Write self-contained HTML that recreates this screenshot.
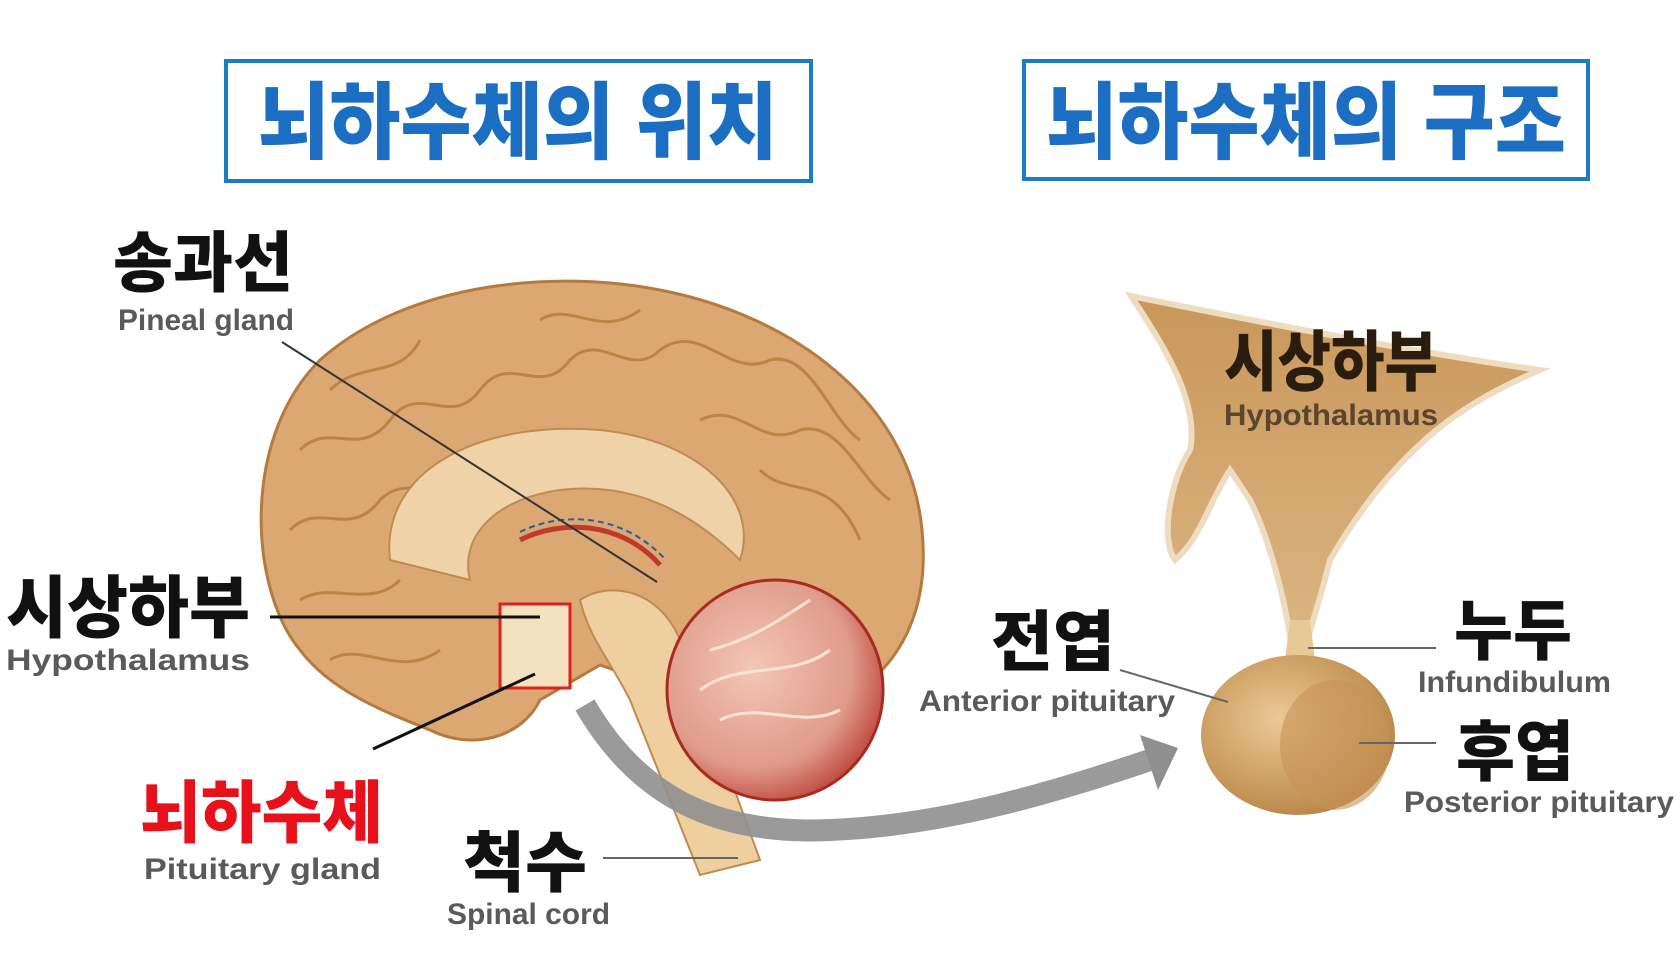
<!DOCTYPE html>
<html><head><meta charset="utf-8"><style>
html,body{margin:0;padding:0;background:#fff;}
svg{display:block}
.k{font-family:"Liberation Sans","Noto Sans CJK KR",sans-serif;font-weight:900;fill:#111}
.e{font-family:"Liberation Sans Narrow","Liberation Sans",sans-serif;font-weight:bold;fill:#5a5a5a}
</style></head><body>
<svg width="1680" height="977" viewBox="0 0 1680 977" xmlns="http://www.w3.org/2000/svg">
<defs>
<radialGradient id="gl" cx="0.4" cy="0.4" r="0.7"><stop offset="0" stop-color="#ecc995"/><stop offset="1" stop-color="#b4803f"/></radialGradient>
<linearGradient id="hy" x1="0" y1="0" x2="0" y2="1"><stop offset="0" stop-color="#c9975a"/><stop offset="1" stop-color="#dcb683"/></linearGradient>
<radialGradient id="cb" cx="0.4" cy="0.4" r="0.7"><stop offset="0" stop-color="#f3c7b5"/><stop offset="0.65" stop-color="#e09a8a"/><stop offset="1" stop-color="#b5322a"/></radialGradient>
</defs>
<rect x="226" y="61" width="585" height="120" fill="#fff" stroke="#1d7cc6" stroke-width="4"/>
<text x="518" y="152" text-anchor="middle" class="k" style="fill:#1b6ec2;font-size:84px" textLength="520" lengthAdjust="spacingAndGlyphs">뇌하수체의 위치</text>
<rect x="1024" y="61" width="564" height="118" fill="#fff" stroke="#1d7cc6" stroke-width="4"/>
<text x="1306" y="152" text-anchor="middle" class="k" style="fill:#1b6ec2;font-size:84px" textLength="520" lengthAdjust="spacingAndGlyphs">뇌하수체의 구조</text>

<!-- brain -->
<path d="M300 650 C250 590 240 440 320 360 C410 280 560 270 660 290 C790 315 910 400 922 530 C930 610 900 660 860 690 L700 700 L600 665 L540 700 C520 740 470 750 430 730 C380 710 330 690 300 650Z" fill="#dba873" stroke="#b57a3e" stroke-width="3"/>
<g fill="none" stroke="#b57a3e" stroke-width="3" opacity="0.8">
<path d="M300 450 C330 420 360 460 390 420 C420 380 450 430 480 390 C510 350 540 400 570 360 C600 330 630 380 660 350 C700 320 730 380 770 360 C810 350 830 420 860 440"/>
<path d="M290 530 C320 500 350 540 380 500 C410 470 440 510 470 480 M700 420 C740 400 760 450 800 430 C840 420 860 480 890 500"/>
<path d="M330 390 C360 360 400 380 420 340 M540 320 C570 300 600 340 640 310 M760 470 C790 500 830 470 860 540 M300 600 C330 580 370 610 400 580 M330 660 C360 640 400 680 440 650"/>
</g>
<path d="M390 560 C380 470 480 420 600 430 C700 440 760 500 740 560 C700 520 640 480 560 490 C490 500 460 540 470 580Z" fill="#efd2a8" stroke="#c08b50" stroke-width="2"/>
<path d="M520 540 C560 520 620 520 660 565" fill="none" stroke="#c0392b" stroke-width="5"/>
<path d="M520 532 C560 512 620 512 664 558" fill="none" stroke="#2c5aa0" stroke-width="2" stroke-dasharray="6 4"/>
<path d="M580 600 C610 580 660 590 680 640 L760 860 L700 875 L630 700 C610 660 590 640 580 600Z" fill="#efcf9f" stroke="#c08b50" stroke-width="2"/>
<ellipse cx="775" cy="690" rx="108" ry="110" fill="url(#cb)" stroke="#a82a20" stroke-width="3"/>
<path d="M700 690 C740 660 790 680 830 650 M720 720 C760 700 800 730 840 710 M710 650 C750 640 780 620 810 600" fill="none" stroke="#fbe3d3" stroke-width="3"/>
<rect x="500" y="604" width="70" height="84" fill="#f3e1bf" stroke="#e01f1f" stroke-width="3"/>
<path d="M585 705 C640 800 720 835 830 830 C950 825 1060 790 1150 760" fill="none" stroke="#8f8f8f" stroke-width="22" opacity="0.9"/>
<polygon points="1140,735 1178,748 1158,790" fill="#8f8f8f"/>

<!-- right structure -->
<path d="M1131 296 C1250 320 1400 350 1540 370 C1470 400 1400 440 1330 560 C1320 600 1310 630 1305 648 L1292 648 C1285 600 1270 540 1250 500 L1230 470 C1210 500 1200 540 1175 560 C1160 540 1170 480 1190 450 C1200 400 1160 340 1131 296Z" fill="url(#hy)" stroke="#eedcc0" stroke-width="6"/>
<path d="M1290 620 L1310 620 L1315 660 L1285 660Z" fill="#e8c896"/>
<ellipse cx="1298" cy="735" rx="97" ry="80" fill="url(#gl)"/>
<ellipse cx="1335" cy="745" rx="55" ry="65" fill="#c79356" opacity="0.6"/>

<g stroke="#333" stroke-width="2">
<line x1="282" y1="342" x2="657" y2="582"/>
<line x1="270" y1="617" x2="540" y2="617" stroke-width="3" stroke="#111"/>
<line x1="373" y1="749" x2="535" y2="674" stroke-width="3" stroke="#111"/>
<line x1="603" y1="858" x2="738" y2="858" stroke="#666"/>
<line x1="1120" y1="670" x2="1228" y2="702" stroke="#666"/>
<line x1="1308" y1="648" x2="1436" y2="648" stroke="#666"/>
<line x1="1359" y1="743" x2="1436" y2="743" stroke="#666"/>
</g>

<g>
<text x="113" y="286" class="k" style="font-size:66px" textLength="180" lengthAdjust="spacingAndGlyphs">송과선</text>
<text x="118" y="330" class="e" style="font-size:30px" textLength="176" lengthAdjust="spacingAndGlyphs">Pineal gland</text>
<text x="6" y="632" class="k" style="font-size:68px" textLength="244" lengthAdjust="spacingAndGlyphs">시상하부</text>
<text x="6" y="670" class="e" style="font-size:30px" textLength="244" lengthAdjust="spacingAndGlyphs">Hypothalamus</text>
<text x="140" y="837" class="k" style="font-size:68px;fill:#e8101a" textLength="243" lengthAdjust="spacingAndGlyphs">뇌하수체</text>
<text x="144" y="879" class="e" style="font-size:30px" textLength="237" lengthAdjust="spacingAndGlyphs">Pituitary gland</text>
<text x="463" y="886" class="k" style="font-size:66px" textLength="124" lengthAdjust="spacingAndGlyphs">척수</text>
<text x="447" y="924" class="e" style="font-size:30px" textLength="163" lengthAdjust="spacingAndGlyphs">Spinal cord</text>
<text x="991" y="665" class="k" style="font-size:66px" textLength="124" lengthAdjust="spacingAndGlyphs">전엽</text>
<text x="919" y="711" class="e" style="font-size:30px" textLength="256" lengthAdjust="spacingAndGlyphs">Anterior pituitary</text>
<text x="1454" y="654" class="k" style="font-size:66px" textLength="118" lengthAdjust="spacingAndGlyphs">누두</text>
<text x="1418" y="692" class="e" style="font-size:30px" textLength="193" lengthAdjust="spacingAndGlyphs">Infundibulum</text>
<text x="1456" y="775" class="k" style="font-size:66px" textLength="118" lengthAdjust="spacingAndGlyphs">후엽</text>
<text x="1404" y="812" class="e" style="font-size:30px" textLength="270" lengthAdjust="spacingAndGlyphs">Posterior pituitary</text>
<text x="1224" y="385" class="k" style="font-size:66px;fill:#2a1c0e" textLength="214" lengthAdjust="spacingAndGlyphs">시상하부</text>
<text x="1224" y="425" class="e" style="font-size:30px;fill:#5a4630" textLength="214" lengthAdjust="spacingAndGlyphs">Hypothalamus</text>
</g>
</svg>
</body></html>
